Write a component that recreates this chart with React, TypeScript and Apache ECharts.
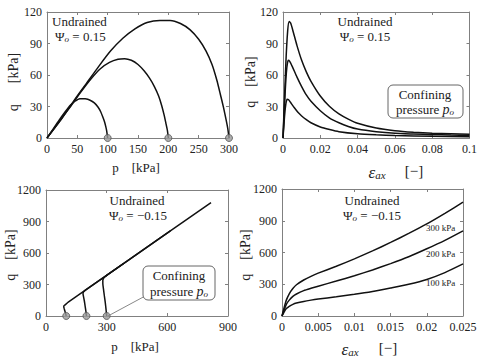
import React, { useEffect, useRef } from 'react';
import * as echarts from 'echarts';

const F = "'Liberation Serif', 'Times New Roman', serif";
const AX = '#808080';
const LINE = '#111111';
const TXT = '#222222';

// Panel 1: undrained stress paths p-q, Psi = 0.15
const pq1_100 = [[100,0],[99.3,3],[98.3,7],[96.8,11],[94.8,15.5],[92,20],[88.5,25],[84,29.5],[78,33.5],[71,36],[63,37.3],[54,37.5],[46,35],[38,31],[30,25],[20,17],[10,8.5],[0,0]];
const pq1_200 = [[200,0],[198.5,7],[196,14],[193,22],[189,31],[184,40],[177,49],[169,57],[160,64],[150,70],[139,74],[128,75.5],[117,75],[103,72],[88,66],[72,56],[56,44],[40,31],[20,15.5],[0,0]];
const pq1_300 = [[300,0],[298,9],[295,18],[291,29],[286,41],[280,55],[272,70],[262,83],[250,94],[236,103],[220,109],[203,112],[186,112],[165,110],[145,104],[125,95],[105,83],[85,68],[65,52],[45,36],[25,19],[0,0]];
const p0_points = [[100,0],[200,0],[300,0]];

// Panel 2: q vs axial strain, Psi = 0.15
const eq2_100 = [[0,0],[0.0008,20],[0.0015,32],[0.0022,37],[0.003,36.5],[0.004,34],[0.006,29],[0.008,24.5],[0.01,21],[0.0125,17.5],[0.015,14.5],[0.02,10.5],[0.025,8],[0.03,6],[0.04,4],[0.05,3],[0.06,2.3],[0.08,1.6],[0.1,1.2]];
const eq2_200 = [[0,0],[0.0012,45],[0.002,66],[0.0028,74],[0.0036,73],[0.005,68],[0.0075,58],[0.01,49],[0.0125,41],[0.015,35],[0.02,26],[0.025,19],[0.03,14.5],[0.035,11],[0.04,8.5],[0.05,6],[0.06,4.5],[0.07,3.8],[0.08,3.2],[0.09,2.8],[0.1,2.5]];
const eq2_300 = [[0,0],[0.0015,70],[0.0025,102],[0.0033,111],[0.0042,109],[0.0055,101],[0.0075,88],[0.01,74],[0.0125,63],[0.015,54],[0.02,40],[0.025,30],[0.03,23],[0.035,18],[0.04,14],[0.05,9.5],[0.06,7],[0.07,5.5],[0.08,4.5],[0.09,4],[0.1,3.5]];

// Panel 3: undrained stress paths p-q, Psi = -0.15
const pq3_100 = [[100,0],[97,25],[93,50],[90,70],[88,85],[88,95],[92,103],[100,115],[110,133],[384,500]];
const pq3_200 = [[200,0],[197,50],[193,100],[189,150],[185,190],[183,212],[185,228],[192,242],[202,257],[615,810]];
const pq3_300 = [[300,0],[297,60],[293,130],[288,200],[284,260],[281,310],[281,340],[285,360],[294,376],[305,394],[816,1080]];

// Panel 4: q vs axial strain, Psi = -0.15
const eq4_100 = [[0,0],[0.0003,40],[0.0006,70],[0.001,92],[0.0015,110],[0.002,122],[0.003,138],[0.004,150],[0.005,160],[0.0075,182],[0.01,205],[0.0125,232],[0.015,265],[0.0175,300],[0.02,345],[0.0225,410],[0.025,492]];
const eq4_200 = [[0,0],[0.0003,60],[0.0006,110],[0.001,150],[0.0015,185],[0.002,208],[0.003,240],[0.004,262],[0.005,282],[0.0075,330],[0.01,380],[0.0125,435],[0.015,495],[0.0175,560],[0.02,635],[0.0225,715],[0.025,805]];
const eq4_300 = [[0,0],[0.0003,80],[0.0006,150],[0.001,210],[0.0015,260],[0.002,295],[0.003,340],[0.004,375],[0.005,405],[0.0075,470],[0.01,540],[0.0125,615],[0.015,695],[0.0175,780],[0.02,870],[0.0225,970],[0.025,1075]];
const curveLabels4 = ['100 kPa', '200 kPa', '300 kPa'];

const xRanges = [[0,300,50],[0,0.1,0.02],[0,900,300],[0,0.025,0.005]];
const yRanges = [[0,120,30],[0,120,30],[0,1200,300],[0,1200,300]];

const grids = [
  { left: 47, top: 12, width: 182, height: 126 },
  { left: 283, top: 12, width: 190, height: 126 },
  { left: 46, top: 190, width: 182, height: 126 },
  { left: 282, top: 189, width: 181, height: 127 },
];

const fmt = (v: number) => String(+v.toFixed(4));

function axis(kind: 'x' | 'y', gi: number, r: number[], mirror: boolean) {
  return {
    gridIndex: gi,
    type: 'value',
    min: r[0],
    max: r[1],
    interval: r[2],
    position: kind === 'x' ? (mirror ? 'top' : 'bottom') : (mirror ? 'right' : 'left'),
    axisLine: { show: true, onZero: false, lineStyle: { color: AX, width: 1 } },
    axisTick: { show: true, inside: true, length: 3, lineStyle: { color: AX } },
    axisLabel: {
      show: !mirror, color: TXT, fontFamily: F, fontSize: 12, margin: 5,
      formatter: fmt, showMinLabel: true, showMaxLabel: true,
    },
    splitLine: { show: false },
  };
}

function line(data: number[][], i: number) {
  return {
    type: 'line', xAxisIndex: i, yAxisIndex: i, data,
    showSymbol: false, symbol: 'none', smooth: 0.2, silent: true,
    lineStyle: { color: LINE, width: 1.5 },
  };
}

function markers(i: number) {
  return {
    type: 'scatter', xAxisIndex: i, yAxisIndex: i, data: p0_points,
    symbolSize: 7, clip: false, silent: true, z: 5,
    itemStyle: { color: '#9a9a9a', borderColor: '#555', borderWidth: 1 },
  };
}

const tok = (size: number, italic: boolean, extra: any = {}) => ({
  font: `${italic ? 'italic ' : ''}${size}px ${F}`,
  fontFamily: F, fontSize: size, fontStyle: italic ? 'italic' : 'normal',
  fill: TXT, color: TXT, ...extra,
});

const richBase = {
  n: tok(13, false, { lineHeight: 14 }),
  y: tok(14, false, { lineHeight: 14 }),
  i: tok(14, true, { lineHeight: 14 }),
  s: tok(9, true, { lineHeight: 9, padding: [8, 0, 0, 0], verticalAlign: 'bottom' }),
  e: tok(17, true, { lineHeight: 16 }),
  es: tok(11, true, { lineHeight: 11, padding: [9, 0, 0, 0], verticalAlign: 'bottom' }),
  b: tok(15, false, { lineHeight: 16 }),
};

function txt(text: string, x: number, y: number, align = 'center', rotation = 0) {
  return {
    type: 'text', x, y, rotation, z: 10, silent: true,
    style: {
      text, rich: richBase, align, verticalAlign: 'middle',
      font: `13px ${F}`, fontFamily: F, fontSize: 13, fill: TXT,
    },
  };
}

function small(text: string, x: number, y: number) {
  return {
    type: 'text', x, y, silent: true, z: 10,
    style: { text, font: `9px ${F}`, fontFamily: F, fontSize: 9, fill: TXT, verticalAlign: 'middle' },
  };
}

function box(x: number, y: number, w: number, h: number) {
  return {
    type: 'rect', z: 9, silent: true,
    shape: { x, y, width: w, height: h, r: 5 },
    style: { fill: '#fff', stroke: '#666', lineWidth: 1 },
  };
}

export default function App() {
  const ref = useRef<HTMLDivElement>(null);
  useEffect(() => {
    const chart = echarts.init(ref.current!, null, { renderer: 'svg' });
    const xAxes: any[] = [];
    const yAxes: any[] = [];
    for (let i = 0; i < 4; i++) { xAxes.push(axis('x', i, xRanges[i], false)); yAxes.push(axis('y', i, yRanges[i], false)); }
    for (let i = 0; i < 4; i++) { xAxes.push(axis('x', i, xRanges[i], true)); yAxes.push(axis('y', i, yRanges[i], true)); }

    const option: any = {
      animation: false,
      backgroundColor: '#fff',
      textStyle: { fontFamily: F },
      grid: grids,
      xAxis: xAxes,
      yAxis: yAxes,
      series: [
        line(pq1_100, 0), line(pq1_200, 0), line(pq1_300, 0), markers(0),
        line(eq2_100, 1), line(eq2_200, 1), line(eq2_300, 1),
        line(pq3_100, 2), line(pq3_200, 2), line(pq3_300, 2), markers(2),
        line(eq4_100, 3), line(eq4_200, 3), line(eq4_300, 3),
      ],
      graphic: [
        // Panel 1
        txt('{n|Undrained}', 52, 21, 'left'),
        txt('{n|Ψ}{s|o}{n| = 0.15}', 55, 36, 'left'),
        txt('{n|p    [kPa]}', 136, 167),
        txt('{y|q      [kPa]}', 13, 82, 'center', Math.PI / 2),
        // Panel 2
        txt('{n|Undrained}', 365, 21),
        txt('{n|Ψ}{s|o}{n| = 0.15}', 365, 36),
        box(388, 85, 75, 33),
        txt('{n|Confining}', 425, 94),
        txt('{n|pressure }{i|p}{s|o}', 425, 109),
        txt('{e|ε}{es|ax}', 377, 172),
        txt('{b|[−]}', 414, 171),
        txt('{y|q    [kPa]}', 250, 82, 'center', Math.PI / 2),
        // Panel 3
        txt('{n|Undrained}', 137, 200),
        txt('{n|Ψ}{s|o}{n| = −0.15}', 138, 215),
        { type: 'line', z: 8, silent: true, shape: { x1: 147, y1: 295, x2: 108, y2: 316 }, style: { stroke: '#888', lineWidth: 1 } },
        box(143, 266, 72, 34),
        txt('{n|Confining}', 179, 275),
        txt('{n|pressure }{i|p}{s|o}', 179, 291),
        txt('{n|p    [kPa]}', 135, 346),
        txt('{y|q    [kPa]}', 10, 255, 'center', Math.PI / 2),
        // Panel 4
        txt('{n|Undrained}', 372, 200),
        txt('{n|Ψ}{s|o}{n| = −0.15}', 372, 215),
        small(curveLabels4[0], 426, 283),
        small(curveLabels4[1], 426, 254),
        small(curveLabels4[2], 426, 228),
        txt('{e|ε}{es|ax}', 350, 349),
        txt('{b|[−]}', 388, 348),
        txt('{y|q    [kPa]}', 245, 255, 'center', Math.PI / 2),
      ],
    };
    chart.setOption(option);
    return () => chart.dispose();
  }, []);
  return <div ref={ref} style={{ position: 'absolute', left: 0, top: 0, width: 480, height: 358, background: '#fff' }} />;
}
